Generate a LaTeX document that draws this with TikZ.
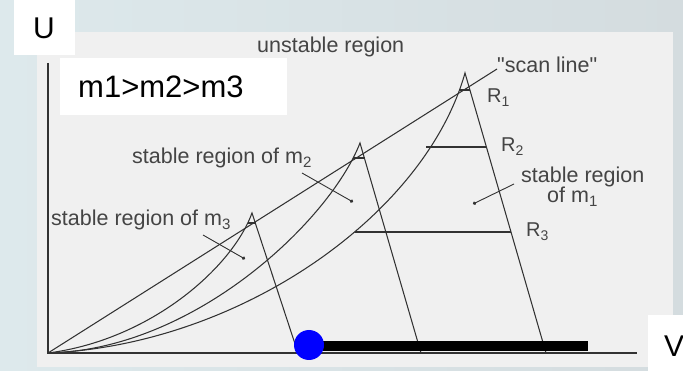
\documentclass[tikz,border=0pt]{standalone}
\usepackage{fontspec}
\setmainfont{Liberation Sans}
\usetikzlibrary{arrows.meta}

\definecolor{bgblue}{RGB}{221,233,236}
\definecolor{bggray}{RGB}{212,220,223}
\definecolor{panel}{RGB}{240,240,240}
\definecolor{ink}{RGB}{50,50,50}
\definecolor{txt}{RGB}{68,68,68}

\begin{document}
\begin{tikzpicture}[x=1pt, y=-1pt, >=Stealth,
    curve/.style={ink, line width=1.05pt},
    rbar/.style={ink, line width=1.5pt},
    lbl/.style={txt, inner sep=0pt, anchor=base west, font=\fontsize{21.5}{24}\selectfont},
    rlbl/.style={lbl, font=\fontsize{20}{22}\selectfont},
    big/.style={black, inner sep=0pt, anchor=base west, font=\fontsize{30}{34}\selectfont},
    pointer/.style={ink, line width=0.9pt, -{Circle[length=3.4pt]}}]
  % Hintergrund
  \useasboundingbox (0,0) rectangle (683,371);
  \shade[left color=bgblue, right color=bggray] (0,0) rectangle (683,371);
  \fill[panel] (37,32) rectangle (673,367);
  \fill[white] (14,0) rectangle (75,55);
  \fill[white] (648,315) rectangle (683,371);
  \fill[white] (60,58) rectangle (287,115);

  % Achsen
  \coordinate (O) at (48,353);
  \coordinate (ytop) at (48,63);
  \coordinate (xend) at (637,353);
  \draw[ink, line width=1.6pt] (ytop) -- (O) -- (xend);
  \node[big] (U) at (33,39) {U};
  \node[big] (V) at (664,356) {V};
  \node[big, font=\fontsize{31}{34}\selectfont] (order) at (78,98) {m1>m2>m3};

  % Spitzen und Fusspunkte
  \coordinate (A3) at (252,213);
  \coordinate (A2) at (360,143);
  \coordinate (A1) at (465,73);
  \coordinate (F3) at (298,353);
  \coordinate (F2) at (421,353);
  \coordinate (F1) at (546,353);
  \coordinate (S) at (497,69);

  % Kurven
  \draw[curve] (O) -- (S);
  \draw[curve] (O) .. controls (150,340) and (232,268) .. (A3) -- (F3);
  \draw[curve] (O) .. controls (195,350) and (330,220) .. (A2) -- (F2);
  \draw[curve] (O) .. controls (240,345) and (425,215) .. (A1) -- (F1);

  % Querbalken
  \draw[rbar] (248,223) -- (255.5,223);
  \draw[rbar] (353,158) -- (364.5,158);
  \draw[rbar] (459.5,90) -- (470,90);
  \draw[rbar] (426,147) -- (486.4,147);
  \draw[rbar] (354.6,232) -- (511,232);

  % Beschriftung
  \node[lbl] (unst) at (257,53) {unstable region};
  \node[lbl] (scan) at (497,73) {\textquotedbl scan line\textquotedbl};
  \node[rlbl] (R1) at (487,103) {R\textsubscript{1}};
  \node[rlbl] (R2) at (501,152) {R\textsubscript{2}};
  \node[rlbl] (R3) at (526,237) {R\textsubscript{3}};
  \node[lbl] (st1) at (521,183) {stable region};
  \node[lbl] (of1) at (547,203) {of m\textsubscript{1}};
  \node[lbl] (st2) at (132,164) {stable region of m\textsubscript{2}};
  \node[lbl] (st3) at (51,226) {stable region of m\textsubscript{3}};

  % Zeiger
  \coordinate (p3a) at (203,235);
  \coordinate (p3b) at (245,259);
  \coordinate (p2a) at (302,173);
  \coordinate (p2b) at (353,202);
  \coordinate (p1a) at (514,184);
  \coordinate (p1b) at (473,204);
  \draw[pointer] (p3a) -- (p3b);
  \draw[pointer] (p2a) -- (p2b);
  \draw[pointer] (p1a) -- (p1b);

  % Betriebspunkt
  \coordinate (dot) at (309,345);
  \coordinate (barend) at (588,346);
  \draw[black, line width=10pt] (309,346) -- (barend);
  \fill[blue] (dot) circle (15);
\end{tikzpicture}
\end{document}
